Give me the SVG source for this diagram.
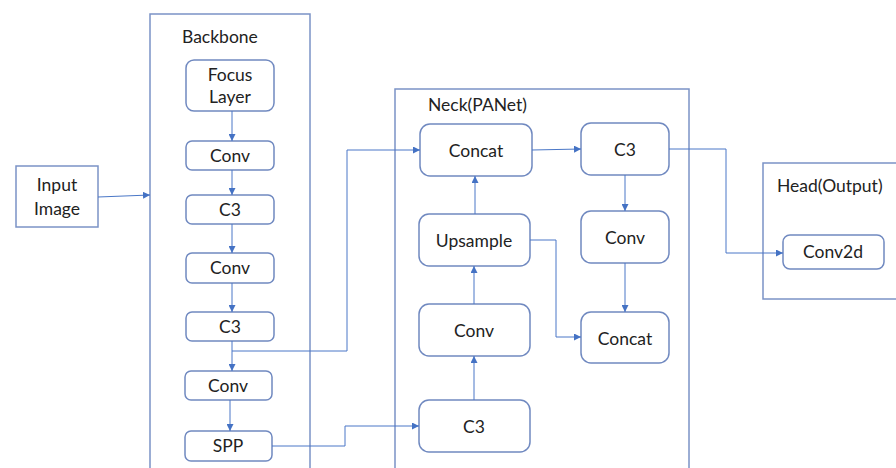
<svg xmlns="http://www.w3.org/2000/svg" width="896" height="468" viewBox="0 0 896 468">
<defs>
<marker id="ah" viewBox="0 0 10 10" refX="10" refY="5" markerWidth="7" markerHeight="7" markerUnits="userSpaceOnUse" orient="auto"><path d="M0,0 L10,5 L0,10 z" fill="#4472c4"/></marker>
<style>
.cont{fill:none;stroke:#7b93c6;stroke-width:1.5}
.node{fill:#fff;stroke:#7089c0;stroke-width:1.5}
.t{font-family:Lato,"Open Sans","Liberation Sans",sans-serif;font-size:17.5px;fill:#222;text-anchor:middle}
.tl{font-family:Lato,"Open Sans","Liberation Sans",sans-serif;font-size:17.5px;fill:#222}
.c{fill:none;stroke:#4a77c7;stroke-width:1;marker-end:url(#ah)}
</style>
</defs>
<rect width="896" height="468" fill="#fff"/>
<g id="backbone"><rect class="cont" x="150" y="14" width="160" height="470"/><text class="tl" x="182" y="43">Backbone</text></g>
<g id="neck"><rect class="cont" x="395" y="89" width="294" height="400"/><text class="tl" x="428" y="111">Neck(PANet)</text></g>
<g id="head"><rect class="cont" x="763" y="163" width="150" height="136"/><text class="tl" x="777" y="192">Head(Output)</text></g>
<g id="input"><rect class="cont" x="16" y="166" width="82" height="61"/><text class="t" x="57" y="191">Input</text><text class="t" x="57" y="215">Image</text></g>
<g id="focus"><rect class="node" x="186" y="60" width="88" height="51" rx="8"/><text class="t" x="230" y="81">Focus</text><text class="t" x="230" y="103">Layer</text></g>
<g id="conv1"><rect class="node" x="186" y="141" width="88" height="29" rx="6"/><text class="t" x="230" y="162">Conv</text></g>
<g id="c3a"><rect class="node" x="186" y="195" width="88" height="29" rx="6"/><text class="t" x="230" y="216">C3</text></g>
<g id="conv2"><rect class="node" x="186" y="253" width="88" height="30" rx="6"/><text class="t" x="230" y="274">Conv</text></g>
<g id="c3b"><rect class="node" x="186" y="312" width="88" height="29" rx="6"/><text class="t" x="230" y="333">C3</text></g>
<g id="conv3"><rect class="node" x="185" y="371" width="87" height="29" rx="6"/><text class="t" x="228" y="392">Conv</text></g>
<g id="spp"><rect class="node" x="185" y="431" width="87" height="30" rx="6"/><text class="t" x="228" y="452">SPP</text></g>
<g id="concat1"><rect class="node" x="420" y="124" width="112" height="52" rx="10"/><text class="t" x="476" y="157">Concat</text></g>
<g id="c3n1"><rect class="node" x="581" y="123" width="88" height="52" rx="10"/><text class="t" x="625" y="156">C3</text></g>
<g id="upsample"><rect class="node" x="419" y="214" width="111" height="52" rx="10"/><text class="t" x="474" y="247">Upsample</text></g>
<g id="convn1"><rect class="node" x="581" y="211" width="88" height="52" rx="10"/><text class="t" x="625" y="244">Conv</text></g>
<g id="convn2"><rect class="node" x="419" y="304" width="111" height="52" rx="10"/><text class="t" x="474" y="337">Conv</text></g>
<g id="concat2"><rect class="node" x="581" y="312" width="88" height="51" rx="10"/><text class="t" x="625" y="345">Concat</text></g>
<g id="c3n2"><rect class="node" x="419" y="400" width="111" height="52" rx="10"/><text class="t" x="474" y="433">C3</text></g>
<g id="conv2d"><rect class="node" x="783" y="235" width="101" height="34" rx="7"/><text class="t" x="833" y="258">Conv2d</text></g>
<g id="connectors">
<path class="c" d="M98,197 L150,195"/>
<path class="c" d="M232,111 L232,141"/>
<path class="c" d="M232,170 L232,195"/>
<path class="c" d="M232,224 L232,253"/>
<path class="c" d="M232,283 L232,312"/>
<path class="c" d="M232,341 L232,371"/>
<path class="c" d="M230,400 L230,431"/>
<path class="c" d="M232,351 L347,351 L347,150 L420,150"/>
<path class="c" d="M272,446 L345,446 L345,426 L419,426"/>
<path class="c" d="M532,150 L581,149"/>
<path class="c" d="M669,149 L726,149 L726,253 L783,253"/>
<path class="c" d="M625,175 L625,211"/>
<path class="c" d="M625,263 L625,312"/>
<path class="c" d="M530,240 L556,240 L556,337 L581,337"/>
<path class="c" d="M475,214 L475,176"/>
<path class="c" d="M474,304 L474,266"/>
<path class="c" d="M474,400 L474,356"/>
</g>
</svg>
